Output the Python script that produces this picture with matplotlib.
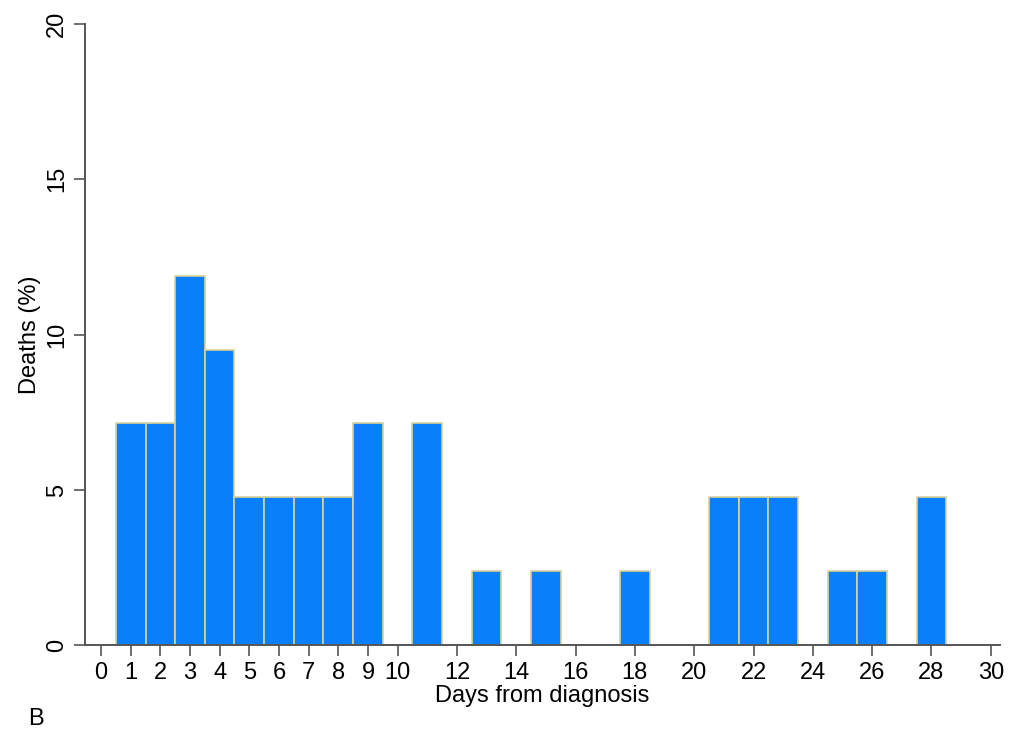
import matplotlib
matplotlib.use('Agg')
import matplotlib.pyplot as plt

days = [1, 2, 3, 4, 5, 6, 7, 8, 9, 11, 13, 15, 18, 21, 22, 23, 25, 26, 28]
deaths_pct = [7.14, 7.14, 11.9, 9.52, 4.76, 4.76, 4.76, 4.76, 7.14, 7.14,
              2.38, 2.38, 2.38, 4.76, 4.76, 4.76, 2.38, 2.38, 4.76]
xticks = list(range(0, 11)) + list(range(12, 31, 2))
yticks = [0, 5, 10, 15, 20]

plt.rcParams['font.family'] = ['Liberation Sans', 'DejaVu Sans']
fig = plt.figure(figsize=(10.18, 7.40), dpi=100)
ax = fig.add_axes([0.0835, 0.128, 0.8985, 0.8396])
ax.bar(days, deaths_pct, width=1.0, color='#0a7ffa', edgecolor='#d9d29a', linewidth=1.2)
ax.set_xlim(-0.54, 30.3)
ax.set_ylim(0, 20)
ax.set_xticks(xticks)
ax.set_yticks(yticks)
ax.tick_params(axis='both', labelsize=17, length=8, width=1.2, color='#555555', pad=4)
for lbl in ax.get_yticklabels():
    lbl.set_rotation(90)
    lbl.set_va('center')
for s in ['top', 'right']:
    ax.spines[s].set_visible(False)
for s in ['left', 'bottom']:
    ax.spines[s].set_color('#555555')
    ax.spines[s].set_linewidth(1.4)
ax.set_xlabel('Days from diagnosis', fontsize=17, labelpad=1)
ax.set_ylabel('Deaths (%)', fontsize=17, labelpad=4)
fig.text(0.028, 0.02, 'B', fontsize=17)
fig.savefig('out.png', dpi=100)
